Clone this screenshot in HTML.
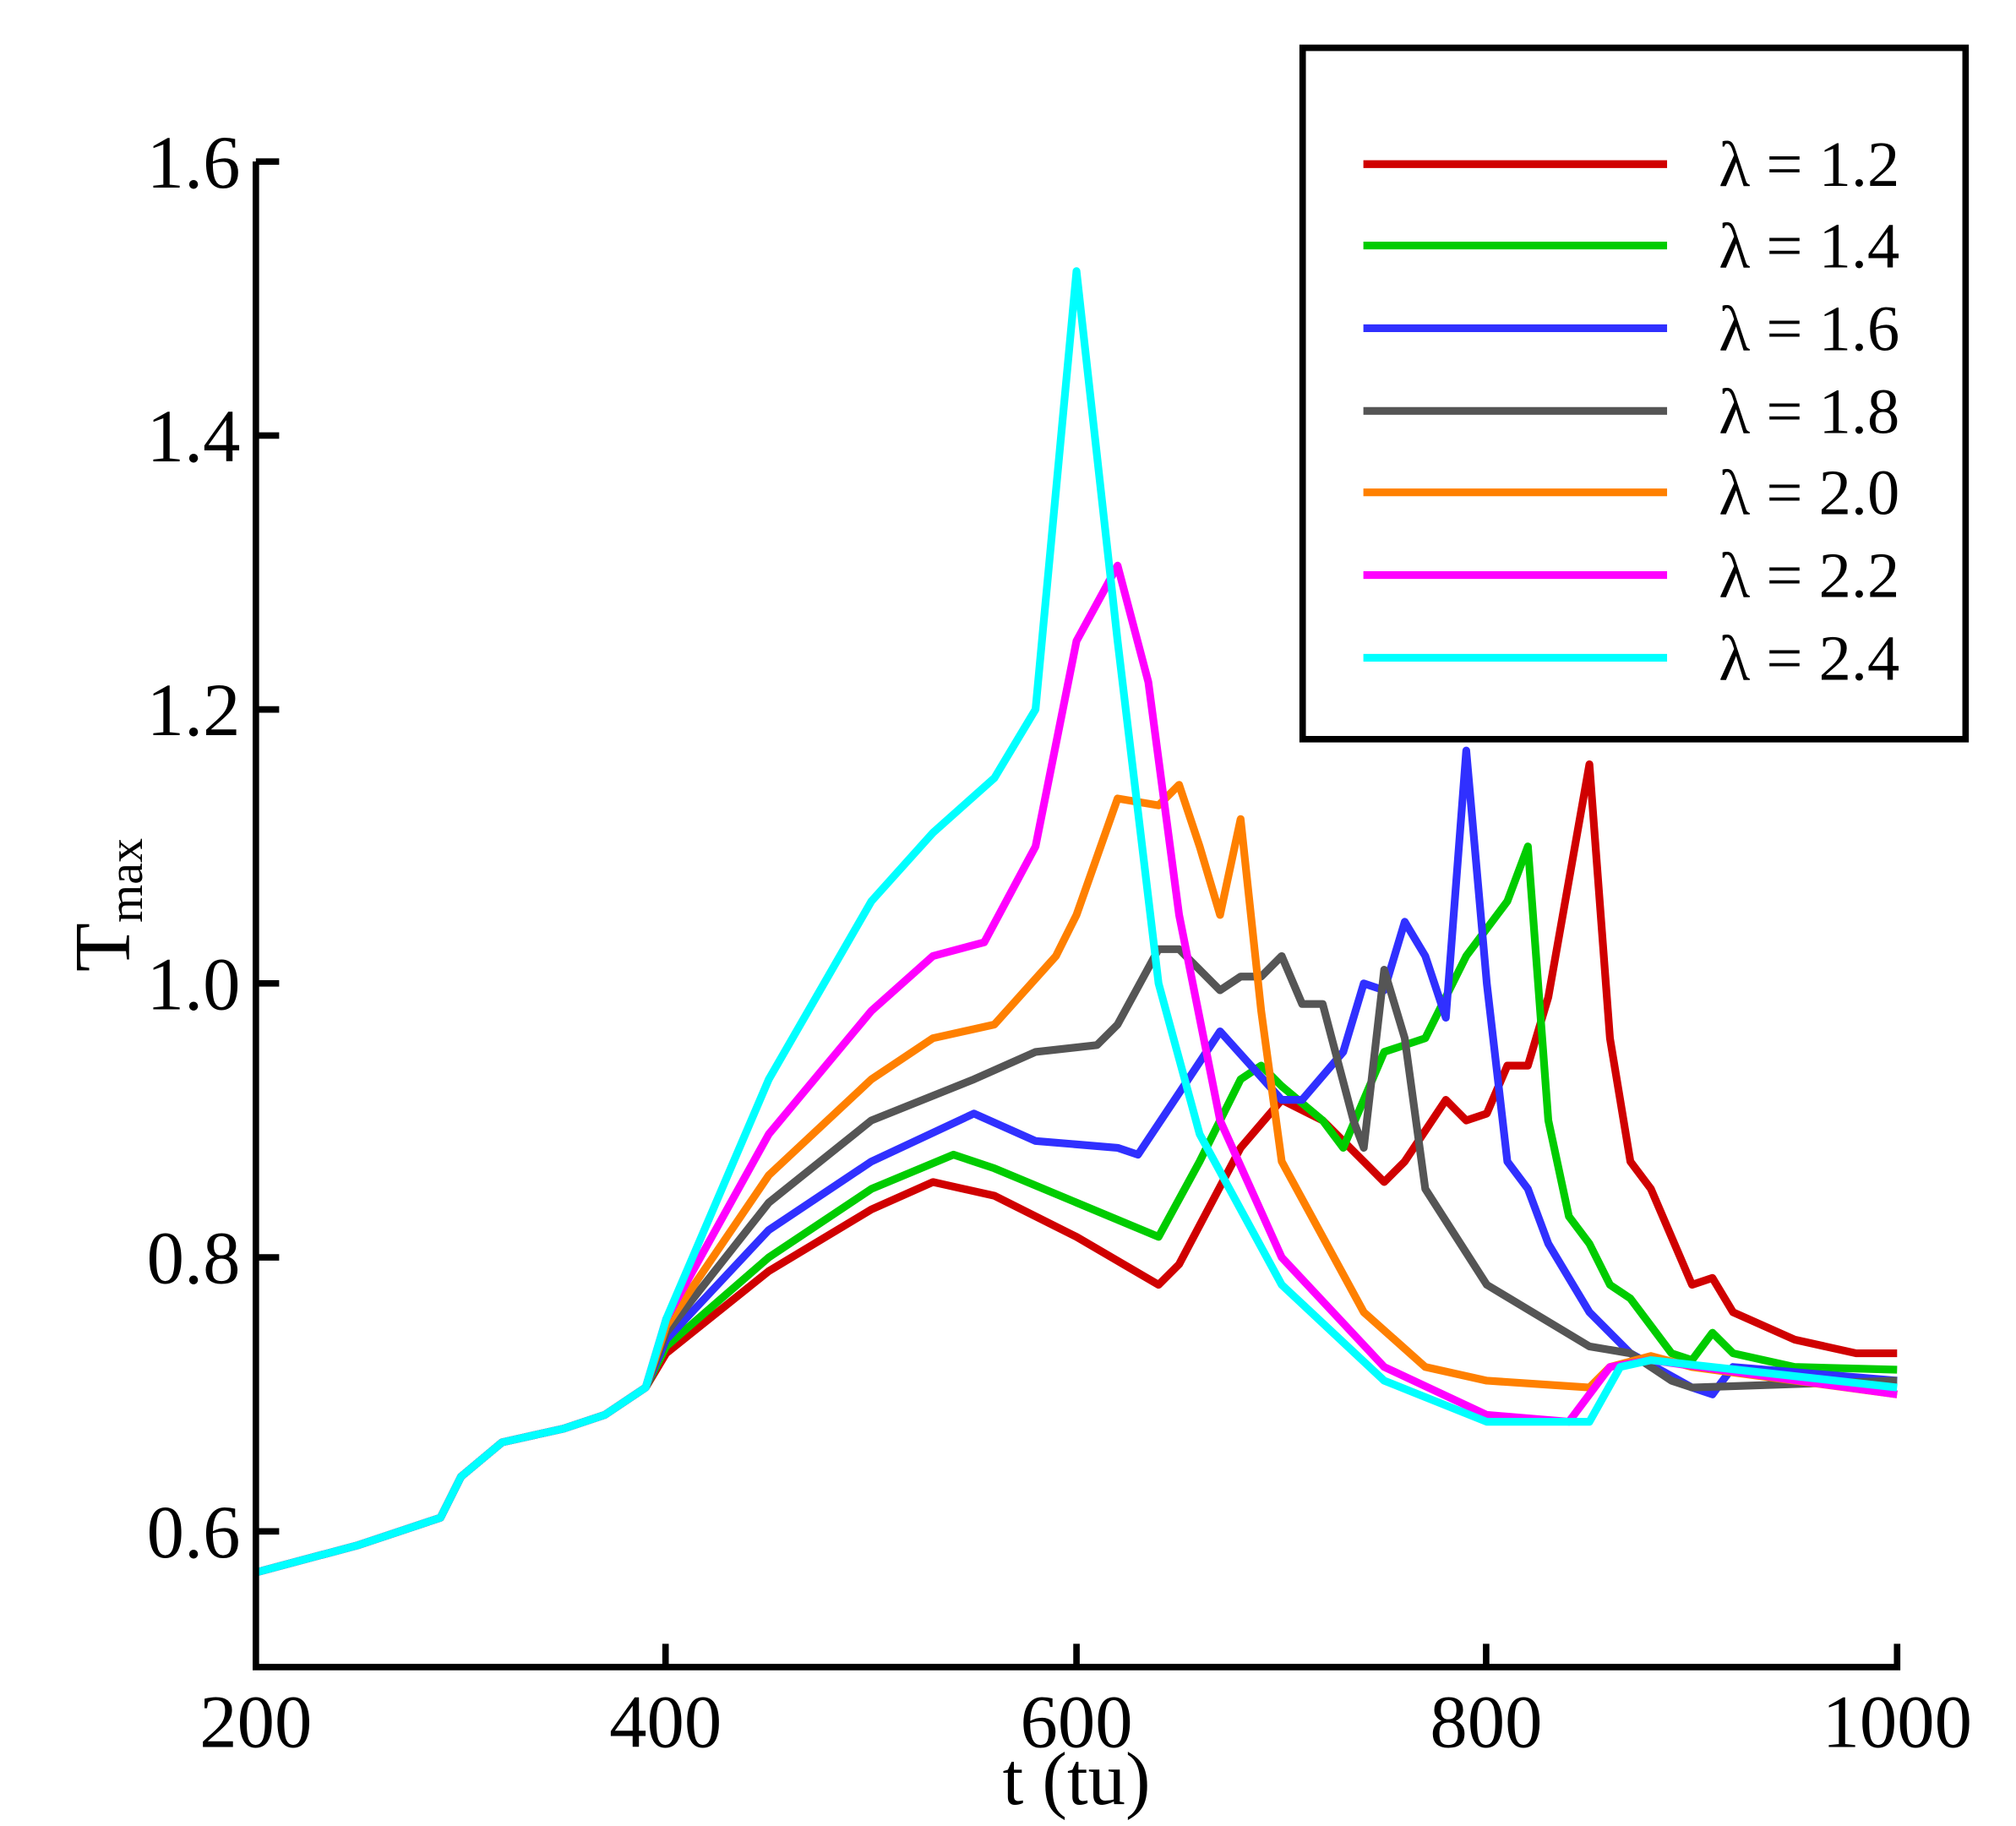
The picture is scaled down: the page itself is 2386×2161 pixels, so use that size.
<!DOCTYPE html>
<html><head><meta charset="utf-8"><style>
html,body{margin:0;padding:0;background:#fff;}
svg{display:block;}
text{font-family:"Liberation Serif","DejaVu Serif",serif;fill:#000;}
</style></head><body>
<svg id="s" width="2386" height="2161" viewBox="0 0 1560 1413" preserveAspectRatio="none" xmlns="http://www.w3.org/2000/svg">
<rect width="1560" height="1413" fill="#fff"/>
<g id="series" fill="none" stroke-width="6" stroke-linejoin="round"></g>
<path d="M198,125 L198,1290 L1468,1290 L1468,1272" fill="none" stroke="#000" stroke-width="5"/>
<g stroke="#000" stroke-width="5">
<line x1="198" y1="125" x2="216" y2="125"/>
<line x1="198" y1="337" x2="216" y2="337"/>
<line x1="198" y1="549" x2="216" y2="549"/>
<line x1="198" y1="761" x2="216" y2="761"/>
<line x1="198" y1="973" x2="216" y2="973"/>
<line x1="198" y1="1185" x2="216" y2="1185"/>
<line x1="515" y1="1290" x2="515" y2="1272"/>
<line x1="833" y1="1290" x2="833" y2="1272"/>
<line x1="1150" y1="1290" x2="1150" y2="1272"/>
</g>
<g font-size="58" text-anchor="end">
<text x="186" y="145">1.6</text>
<text x="186" y="357">1.4</text>
<text x="186" y="569">1.2</text>
<text x="186" y="781">1.0</text>
<text x="186" y="993">0.8</text>
<text x="186" y="1205">0.6</text>
</g>
<g font-size="58" text-anchor="middle">
<text x="198" y="1352">200</text>
<text x="515" y="1352">400</text>
<text x="833" y="1352">600</text>
<text x="1150" y="1352">800</text>
<text x="1468" y="1352">1000</text>
<text x="833" y="1396">t (tu)</text>
</g>
<g transform="translate(100,752) rotate(-90)">
<text x="0" y="0" font-size="62">T</text>
<text x="38" y="10" font-size="38">max</text>
</g>
<rect x="1008" y="37" width="513" height="535" fill="#fff" stroke="#000" stroke-width="5"/>
<g stroke-width="6">
<line x1="1055" y1="127" x2="1290" y2="127" stroke="#d00000"/>
<line x1="1055" y1="190" x2="1290" y2="190" stroke="#00cc00"/>
<line x1="1055" y1="254" x2="1290" y2="254" stroke="#3030ff"/>
<line x1="1055" y1="318" x2="1290" y2="318" stroke="#555555"/>
<line x1="1055" y1="381" x2="1290" y2="381" stroke="#ff8000"/>
<line x1="1055" y1="445" x2="1290" y2="445" stroke="#ff00ff"/>
<line x1="1055" y1="509" x2="1290" y2="509" stroke="#00ffff"/>
</g>
<g font-size="50">
<text x="1330" y="144">λ = 1.2</text>
<text x="1330" y="207">λ = 1.4</text>
<text x="1330" y="271">λ = 1.6</text>
<text x="1330" y="335">λ = 1.8</text>
<text x="1330" y="398">λ = 2.0</text>
<text x="1330" y="462">λ = 2.2</text>
<text x="1330" y="526">λ = 2.4</text>
</g>
</svg>
<script>
var base=[[200,0.57],[250,0.59],[290,0.61],[300,0.64],[320,0.665],[350,0.675],[370,0.685],[390,0.705]];
var S=[
["#d00000",[[400,0.73],[450,0.79],[500,0.835],[530,0.855],[560,0.845],[600,0.815],[640,0.78],[650,0.795],[680,0.88],[700,0.915],[720,0.9],[740,0.87],[750,0.855],[760,0.87],[780,0.915],[790,0.9],[800,0.905],[810,0.94],[820,0.94],[830,0.99],[850,1.16],[860,0.96],[870,0.87],[880,0.85],[900,0.78],[910,0.785],[920,0.76],[950,0.74],[980,0.73],[1000,0.73]]],
["#00cc00",[[400,0.735],[450,0.8],[500,0.85],[540,0.875],[560,0.865],[600,0.84],[640,0.815],[660,0.87],[680,0.93],[690,0.94],[700,0.925],[720,0.9],[730,0.88],[750,0.95],[770,0.96],[790,1.02],[810,1.06],[820,1.1],[830,0.9],[840,0.83],[850,0.81],[860,0.78],[870,0.77],[890,0.73],[900,0.725],[910,0.745],[920,0.73],[950,0.72],[1000,0.718]]],
["#3030ff",[[400,0.74],[450,0.82],[500,0.87],[550,0.905],[580,0.885],[620,0.88],[630,0.875],[650,0.92],[670,0.965],[700,0.915],[710,0.915],[730,0.95],[740,1.0],[750,0.995],[760,1.045],[770,1.02],[780,0.975],[790,1.17],[800,1.0],[810,0.87],[820,0.85],[830,0.81],[850,0.76],[870,0.73],[900,0.705],[910,0.7],[920,0.72],[1000,0.71]]],
["#555555",[[400,0.745],[450,0.84],[500,0.9],[550,0.93],[580,0.95],[610,0.955],[620,0.97],[640,1.025],[650,1.025],[670,0.995],[680,1.005],[690,1.005],[700,1.02],[710,0.985],[720,0.985],[735,0.9],[740,0.88],[750,1.01],[760,0.96],[770,0.85],[800,0.78],[850,0.735],[870,0.73],[890,0.71],[900,0.705],[1000,0.71]]],
["#ff8000",[[400,0.75],[450,0.86],[500,0.93],[530,0.96],[560,0.97],[590,1.02],[600,1.05],[620,1.135],[640,1.13],[650,1.145],[660,1.1],[670,1.05],[680,1.12],[690,0.98],[700,0.87],[740,0.76],[770,0.72],[800,0.71],[850,0.705],[860,0.72],[880,0.728],[900,0.72],[1000,0.7]]],
["#ff00ff",[[400,0.755],[450,0.89],[500,0.98],[530,1.02],[555,1.03],[580,1.1],[600,1.25],[620,1.305],[635,1.22],[650,1.05],[670,0.9],[700,0.8],[750,0.72],[800,0.685],[840,0.68],[860,0.72],[880,0.725],[1000,0.7]]],
["#00ffff",[[400,0.755],[450,0.93],[500,1.06],[530,1.11],[560,1.15],[580,1.2],[600,1.52],[620,1.25],[640,1.0],[660,0.89],[700,0.78],[750,0.71],[800,0.68],[850,0.68],[865,0.72],[880,0.725],[1000,0.705]]]
];
var g=document.getElementById("series"),ns="http://www.w3.org/2000/svg";
S.forEach(function(s){
 var pts=base.concat(s[1]).map(function(p){return (198+(p[0]-200)*1.5875).toFixed(1)+","+(1185-(p[1]-0.6)*1060).toFixed(1);});
 var pl=document.createElementNS(ns,"polyline");
 pl.setAttribute("points",pts.join(" "));pl.setAttribute("stroke",s[0]);
 g.appendChild(pl);
});
</script>
</body></html>
